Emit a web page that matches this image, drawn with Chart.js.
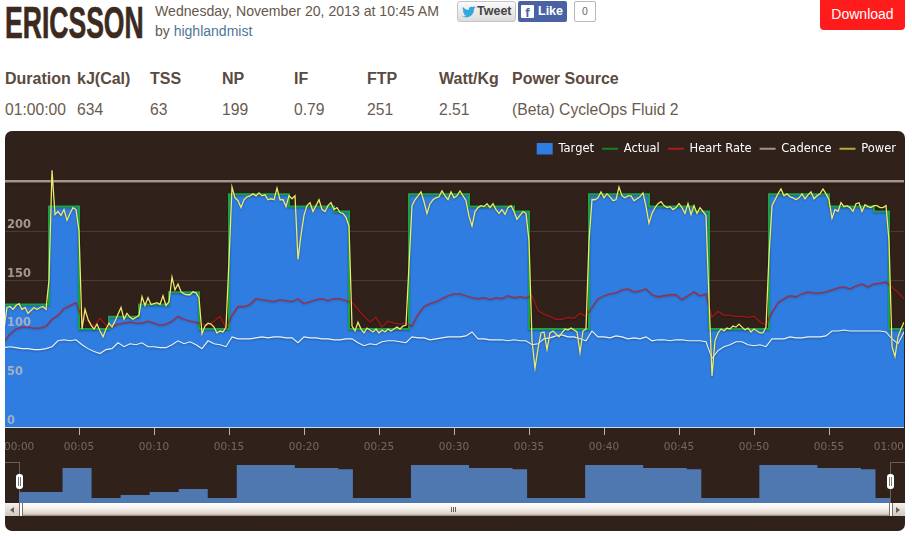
<!DOCTYPE html>
<html>
<head>
<meta charset="utf-8">
<title>Ericsson</title>
<script src="https://cdn.jsdelivr.net/npm/chart.js@4"></script>
<style>
  html, body { margin: 0; padding: 0; background: #fff; }
  body { width: 912px; height: 540px; position: relative; overflow: hidden; font-family: "Liberation Sans", Arial, sans-serif; color: #5a4a40; }
  .abs { position: absolute; white-space: nowrap; }
  #title { left: 5px; top: -2px; font: bold 45px/50px "Liberation Sans", sans-serif; color: #3c2a20; -webkit-text-stroke: .7px #3c2a20; transform-origin: left top; transform: scaleX(.59); }
  #when { left: 155px; top: 3px; font-size: 14.1px; color: #66574c; }
  #by { left: 155px; top: 23px; font-size: 14px; color: #66574c; }
  #by span { color: #4f7796; }
  #tweet { left: 457px; top: 1px; width: 57px; height: 19px; border: 1px solid #c4c4c4; border-radius: 3px; background: linear-gradient(#fafafa, #dcdcdc); font: bold 12.5px/19px "Liberation Sans"; color: #444; }
  #tweet svg { position: absolute; left: 4px; top: 4px; }
  #tweet b { position: absolute; left: 19px; }
  #like { left: 518px; top: 1px; width: 49px; height: 21px; border-radius: 2px; background: #4a62a4; font: bold 12.5px/21px "Liberation Sans"; color: #fff; }
  #like i { position: absolute; left: 3px; top: 4px; width: 13px; height: 13px; background: #fff; color: #4a62a4; font: bold 13px/15px "Liberation Sans"; text-align: center; border-radius: 1px; }
  #like b { position: absolute; left: 20px; }
  #likes { left: 574px; top: 1px; width: 20px; height: 19px; border: 1px solid #b8b8b8; border-radius: 2px; font: 10.5px/19px "Liberation Sans"; text-align: center; color: #666; }
  #download { left: 820px; top: 0; width: 85px; height: 30px; background: #ff1a1c; border-radius: 0 0 4px 4px; color: #fff; font-size: 14px; line-height: 29px; text-align: center; }
  .head { top: 70px; font-size: 16px; font-weight: bold; }
  .val { top: 101px; font-size: 15.7px; color: #6a5b50; }
  #panel { left: 5px; top: 131px; width: 900px; height: 400px; background: #30211a; border-radius: 7px; overflow: hidden; }
  #main { position: absolute; left: -1px; top: 4px; }
  #nav { position: absolute; left: 14px; top: 331px; }
  .mask { position: absolute; border-top: 1px solid #6d5f56; top: 331px; height: 41px; }
  .handle { position: absolute; top: 343px; width: 7px; height: 15px; background: #fff; border-radius: 3px; }
  .handle:after { content: ""; position: absolute; left: 2px; top: 3px; width: 1px; height: 9px; border-left: 1px solid #777; border-right: 1px solid #777; }
  #scroll { position: absolute; left: 0; top: 372px; width: 900px; height: 13px; background: linear-gradient(#fff 0%, #f6f2ee 40%, #d9d0c8 85%, #8d7e74 100%); }
  .btn { position: absolute; top: 0; width: 14px; height: 13px; background: linear-gradient(#f4f2ef, #cfc8c2); }
  .tri { position: absolute; top: 4px; width: 0; height: 0; border-top: 3px solid transparent; border-bottom: 3px solid transparent; }
  .edge { position: absolute; top: 0; width: 2px; height: 13px; background: #fff; border-left: 1px solid #7d6f66; border-right: 1px solid #7d6f66; }
  #grip { position: absolute; left: 446px; top: 4px; width: 5px; height: 5px; background: repeating-linear-gradient(90deg, #6d5f56 0 1px, transparent 1px 2px); }
</style>
</head>
<body>
  <div class="abs" id="title">ERICSSON</div>
  <div class="abs" id="when">Wednesday, November 20, 2013 at 10:45 AM</div>
  <div class="abs" id="by">by <span>highlandmist</span></div>
  <div class="abs" id="tweet"><svg width="14" height="12" viewBox="0 0 14 12"><path d="M0 10c4 3 12 1 12-7l2-2-2 .5 1-1.5-2 1C9 -0 6 1 7 4 4 4 2 2 1 1c-1 2 0 3 1 4l-1-.3c0 2 1 3 2 3.300H2c.5 1 1 1.500 2.500 1.700C3 10.500 1.500 10.500 0 10z" fill="#2fa9e0"/></svg><b>Tweet</b></div>
  <div class="abs" id="like"><i>f</i><b>Like</b></div>
  <div class="abs" id="likes">0</div>
  <div class="abs" id="download">Download</div>
  <div id="stats"></div>

  <div class="abs" id="panel">
    <canvas id="main" width="900" height="327"></canvas>
    <div class="mask" style="left:0;width:14px;border-right:1px solid #6d5f56"></div>
    <canvas id="nav" width="871" height="41"></canvas>
    <div class="mask" style="left:885px;width:15px;border-left:1px solid #6d5f56"></div>
    <div class="handle" style="left:11px"></div>
    <div class="handle" style="left:882px"></div>
    <div id="scroll">
      <div class="btn" style="left:0"><div class="tri" style="left:5px;border-right:4px solid #6d5f56"></div></div>
      <div class="btn" style="right:0"><div class="tri" style="left:5px;border-left:4px solid #6d5f56"></div></div>
      <div class="edge" style="left:14px"></div>
      <div class="edge" style="left:884px"></div>
      <div id="grip"></div>
    </div>
  </div>

<script>
/* ── STATS ROW ── */
const statLabels = ['Duration', 'kJ(Cal)', 'TSS', 'NP', 'IF', 'FTP', 'Watt/Kg', 'Power Source'];
const statValues = ['01:00:00', '634', '63', '199', '0.79', '251', '2.51', '(Beta) CycleOps Fluid 2'];
const statLefts  = [5, 77, 150, 222, 294, 367, 439, 512];

/* ── CHART DATA ── */
const xTicks = [0, 5, 10, 15, 20, 25, 30, 35, 40, 45, 50, 55, 60];
const xTickLabels = ['00:00', '00:05', '00:10', '00:15', '00:20', '00:25', '00:30', '00:35', '00:40', '00:45', '00:50', '00:55', '01:00'];
const yTicks = [0, 50, 100, 150, 200];
const ftpWatts = 251;

const legendLabels = ['Target', 'Actual', 'Heart Rate', 'Cadence', 'Power'];
const legendColors = ['#2f7de0', '#17812a', '#a81c1c', '#a3958b', '#b5ad3a'];

const targetMinutes = [0, 3, 5, 7, 9, 11, 13, 15, 19, 22, 23, 27, 31, 34, 35, 39, 43, 46, 47, 51, 55, 58, 59, 60];
const targetWatts = [125, 225, 100, 112.5, 125, 137.5, 100, 237.5, 225, 220, 100, 237.5, 225, 220, 100, 237.5, 225, 220, 100, 237.5, 225, 220, 100, 100];
const actualWatts = [125, 225, 100, 112.5, 125, 137.5, 100, 237.5, 225, 220, 100, 237.5, 225, 220, 100, 237.5, 225, 220, 100, 237.5, 225, 220, 100, 100];

// sampled every 0.2 min
const powerStep = 0.2;
const powerWatts = [
  100,122,123,120,124, 126,120,122,116,119, 122,120,122,123,120,
  150,262,217,220,216, 222,211,218,224,222, 200,100,120,110,104,
  100,105,98,92,100, 106,102,108,115,122, 110,116,112,110,112,
  114,133,124,132,125, 126,127,125,134,124, 128,153,140,146,138,
  136,135,135,138,137, 132,95,103,106,105, 102,96,98,97,102,
  170,245,234,231,224, 232,235,236,238,236, 239,236,237,232,233,
  232,244,232,232,225, 236,233,236,171,196, 216,226,229,220,226,
  232,222,220,226,229, 222,224,219,218,214, 205,103,98,107,100,
  96,101,99,97,100, 96,99,97,100,98, 100,102,100,103,104,
  165,226,232,236,240, 230,218,228,232,234, 235,241,236,232,240,
  234,236,241,236,231, 215,205,220,224,226, 225,228,224,228,222,
  218,222,217,224,226, 220,212,216,220,218, 190,88,60,80,96,
  97,79,96,98,95, 92,96,100,99,101, 99,97,76,98,100,
  190,232,232,234,240, 234,238,235,231,232, 245,236,234,236,236,
  231,233,235,239,225, 208,218,224,228,230, 226,224,225,222,224,
  228,224,218,228,217, 226,218,224,220,216, 130,52,88,96,100,
  98,101,100,103,102, 105,102,99,101,97, 100,98,96,96,102,
  175,226,232,238,243, 236,238,235,234,232, 234,238,233,237,240,
  233,236,238,243,238, 232,213,222,220,229, 225,226,224,220,228,
  229,220,227,225,224, 226,226,224,224,226, 190,82,72,92,100,
  107
];

// sampled every 0.4 min
const trackStep = 0.4;
const heartRate = [
  87,95,100,102,102, 101,101,103,110,114, 121,124,127,111,108,
  103,111,104,102,105, 106,107,106,106,108, 106,104,105,108,113,
  110,108,107,105,104, 108,113,101,114,123, 123,125,131,130,129,
  128,130,129,128,131, 126,128,130,131,129, 131,131,129,127,120,
  113,107,112,102,108, 106,105,106,103,115, 123,126,128,131,134,
  136,136,134,132,131, 132,130,132,131,134, 132,133,132,134,119,
  115,113,110,110,112, 111,116,113,122,131, 134,136,137,140,141,
  138,139,141,135,133, 134,135,135,130,134, 138,134,136,112,118,
  114,114,113,113,112, 113,107,104,117,127, 131,134,133,136,138,
  137,137,138,140,142, 143,141,144,146,143, 146,147,148,143,137,
  131
];
const cadence = [
  81,82,81,80,80, 79,79,80,82,88, 89,88,89,84,80,
  77,75,79,80,86, 82,85,84,86,82, 82,81,81,84,88,
  85,87,84,80,88, 85,84,82,92,90, 90,90,91,92,91,
  92,92,91,91,86, 92,91,91,90,90, 89,89,90,90,86,
  83,85,84,87,88, 88,87,86,92,91, 91,89,90,91,92,
  92,92,93,97,90, 90,89,89,89,88, 89,88,88,84,85,
  90,91,93,94,92, 92,90,88,98,92, 92,91,93,92,90,
  91,90,92,88,89, 89,88,89,89,88, 88,88,87,70,78,
  82,84,87,87,84, 83,84,82,90,90, 90,92,91,91,92,
  92,92,93,98,98, 99,98,98,98,98, 98,98,97,90,85,
  97
];

/* ── BUILD STATS ── */
const statsBox = document.getElementById('stats');
statLabels.forEach((label, i) => {
  statsBox.insertAdjacentHTML('beforeend',
    `<div class="abs head" style="left:${statLefts[i]}px">${label}</div>` +
    `<div class="abs val" style="left:${statLefts[i]}px">${statValues[i]}</div>`);
});

const toXY = (values, step) => values.map((v, i) => ({ x: +(i * step).toFixed(1), y: v }));
const stepXY = (values) => targetMinutes.map((m, i) => ({ x: m, y: values[i] }));

/* ── SOFT SHADOW UNDER THE LINES ── */
const lineShadow = {
  id: 'lineShadow',
  beforeDatasetDraw(chart, args) {
    if (args.index === 0) return;
    const ctx = chart.ctx;
    ctx.save();
    ctx.shadowColor = 'rgba(0,0,0,0.3)';
    ctx.shadowBlur = 2;
    ctx.shadowOffsetY = 1;
  },
  afterDatasetDraw(chart, args) {
    if (args.index === 0) return;
    chart.ctx.restore();
  },
};

/* ── MAIN CHART ── */
new Chart(document.getElementById('main'), {
  type: 'line',
  plugins: [lineShadow],
  data: {
    datasets: [
      { label: 'Target', data: stepXY(targetWatts), stepped: 'before', fill: 'origin', backgroundColor: '#2f7de0', borderWidth: 0, pointRadius: 0, order: 6 },
      { label: 'FTP', data: [{ x: 0, y: ftpWatts }, { x: 60, y: ftpWatts }], borderColor: '#a5968c', borderWidth: 2.5, pointRadius: 0, order: 5 },
      { label: 'Actual', data: stepXY(actualWatts), stepped: 'before', borderColor: '#1ba348', borderWidth: 2, pointRadius: 0, order: 4 },
      { label: 'Heart Rate', data: toXY(heartRate, trackStep), borderColor: 'rgba(196,20,20,0.75)', borderWidth: 1.3, pointRadius: 0, tension: 0, order: 3 },
      { label: 'Cadence', data: toXY(cadence, trackStep), borderColor: '#eef3f8', borderWidth: 1.1, pointRadius: 0, tension: 0, order: 2 },
      { label: 'Power', data: toXY(powerWatts, powerStep), borderColor: '#eeea6a', borderWidth: 1.3, pointRadius: 0, tension: 0, order: 1 },
    ],
  },
  options: {
    responsive: false,
    animation: false,
    events: [],
    layout: { padding: 0 },
    plugins: {
      tooltip: { enabled: false },
      legend: {
        position: 'top',
        align: 'end',
        labels: {
          usePointStyle: true,
          pointStyleWidth: 16,
          boxHeight: 12,
          padding: 8,
          color: '#ffffff',
          font: { family: "'DejaVu Sans', sans-serif", size: 11.5 },
          generateLabels: () => legendLabels.map((text, i) => ({
            text,
            fillStyle: legendColors[i],
            strokeStyle: legendColors[i],
            lineWidth: i === 0 ? 0 : 2,
            pointStyle: i === 0 ? 'rect' : 'line',
            fontColor: '#ffffff',
            hidden: false,
            datasetIndex: i,
          })),
        },
      },
    },
    scales: {
      x: {
        type: 'linear',
        min: 0,
        max: 60,
        afterBuildTicks: s => { s.ticks = xTicks.map(value => ({ value })); },
        afterFit: s => { s.height = 35; s.paddingLeft = 0; s.paddingRight = 0; },
        grid: { drawOnChartArea: false, tickLength: 8, tickColor: '#bdb4ad' },
        border: { color: '#d5dbe6', width: 1 },
        ticks: {
          align: 'inner',
          autoSkip: false,
          maxRotation: 0,
          padding: 6,
          color: '#766a61',
          font: { family: "'DejaVu Sans', sans-serif", size: 10.5 },
          callback: (value, i) => xTickLabels[i],
        },
      },
      y: {
        min: 0,
        max: 268,
        afterBuildTicks: s => { s.ticks = yTicks.map(value => ({ value })); },
        afterFit: s => { s.width = 0; },
        grid: { color: '#4a3c34', drawTicks: false },
        border: { display: false },
        ticks: {
          z: 1,
          mirror: true,
          padding: 3,
          labelOffset: -6,
          color: 'rgba(205,195,186,0.72)',
          font: { family: "'DejaVu Sans', sans-serif", size: 11.5, weight: 'bold' },
        },
      },
    },
  },
});

/* ── NAVIGATOR ── */
new Chart(document.getElementById('nav'), {
  type: 'line',
  data: {
    datasets: [
      { data: stepXY(targetWatts), stepped: 'before', fill: 'origin', backgroundColor: '#4f78b0', borderWidth: 0, pointRadius: 0 },
    ],
  },
  options: {
    responsive: false,
    animation: false,
    events: [],
    layout: { padding: 0 },
    plugins: { legend: { display: false }, tooltip: { enabled: false } },
    scales: {
      x: { type: 'linear', min: 0, max: 60, display: false },
      y: { min: 79, max: 250, display: false },
    },
  },
});
</script>
</body>
</html>
